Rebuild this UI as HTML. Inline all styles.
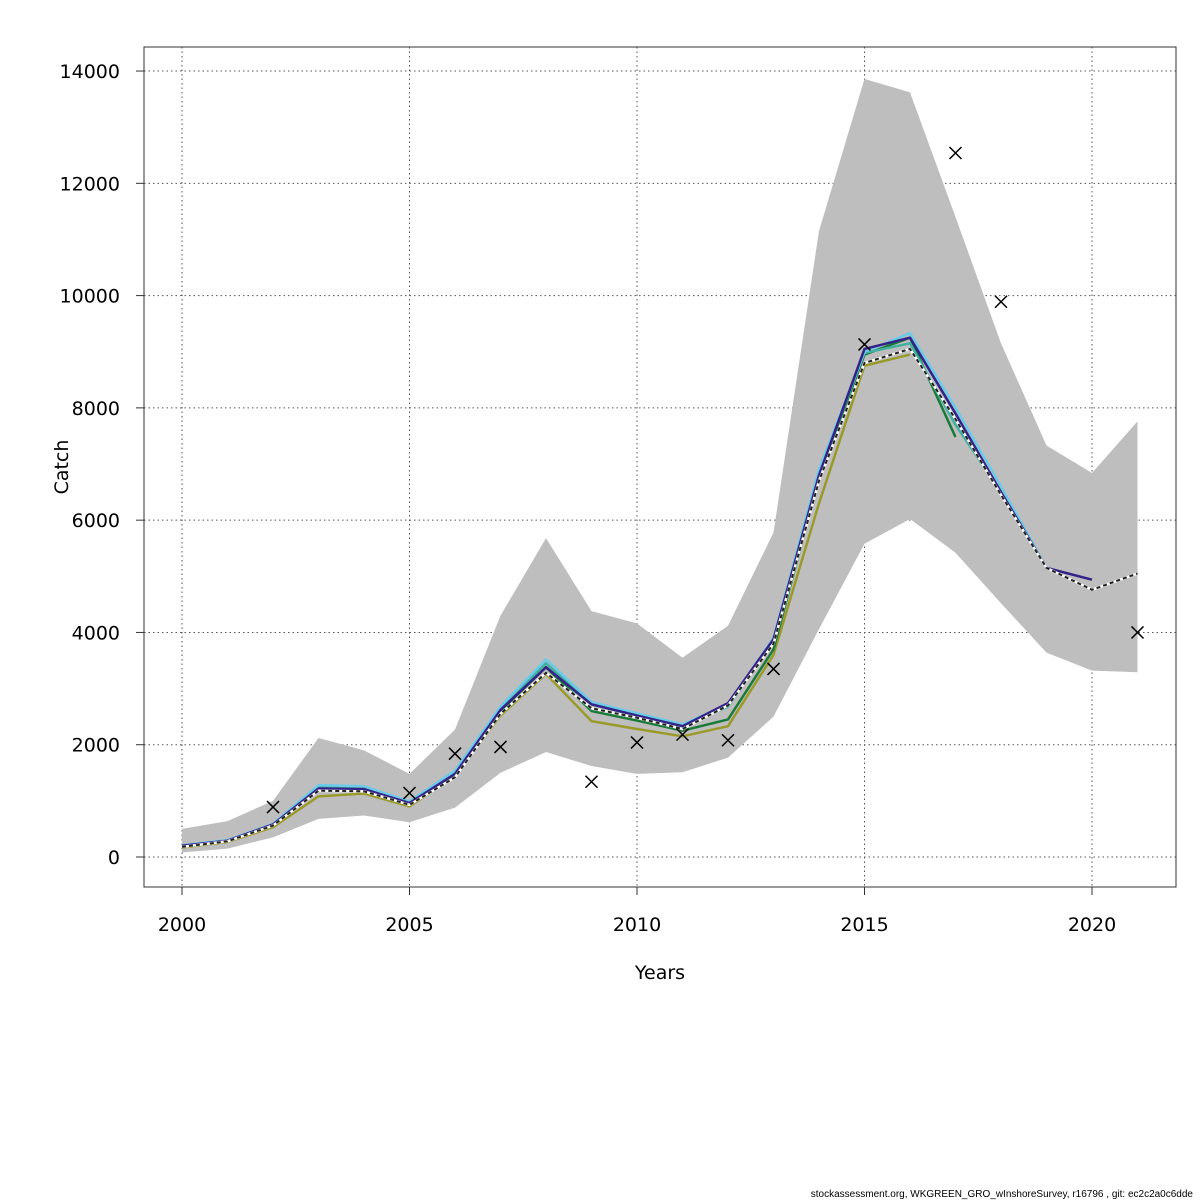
<!DOCTYPE html>
<html><head><meta charset="utf-8"><style>
html,body{margin:0;padding:0;background:#fff;}
svg{display:block;font-family:"DejaVu Sans","Liberation Sans",sans-serif;}
</style></head><body>
<svg id="chart" width="1200" height="1200" viewBox="0 0 1200 1200">
<g id="grid"></g>
<g id="band"></g>
<g id="lines"></g>
<g id="obs"></g>
<rect x="144" y="47" width="1032" height="840" fill="none" stroke="#333" stroke-width="1"/>
<g id="axes"></g>
<text x="660" y="979" font-size="19" text-anchor="middle">Years</text>
<text transform="translate(68,467) rotate(-90)" font-size="19" text-anchor="middle">Catch</text>
<text x="1193" y="1197" font-size="10" text-anchor="end" font-family="Liberation Sans, sans-serif">stockassessment.org, WKGREEN_GRO_wInshoreSurvey, r16796 , git: ec2c2a0c6dde</text>
</svg>
<script>
const years = [2000,2001,2002,2003,2004,2005,2006,2007,2008,2009,2010,2011,2012,2013,2014,2015,2016,2017,2018,2019,2020,2021];
const estimate = [180,280,560,1180,1170,930,1420,2550,3280,2650,2480,2280,2700,3800,6700,8800,9050,7800,6450,5150,4760,5050];
const upper = [500,640,1000,2120,1900,1480,2270,4300,5680,4380,4160,3550,4120,5780,11150,13860,13620,11400,9150,7330,6840,7760];
const lower = [80,150,350,680,740,620,880,1500,1870,1620,1480,1510,1770,2500,4060,5580,6020,5420,4520,3640,3320,3290];
const obsYears = [2002,2005,2006,2007,2009,2010,2011,2012,2013,2015,2017,2018,2021];
const obsValues = [890,1140,1840,1960,1340,2040,2180,2080,3350,9130,12540,9890,4000];
const peelDarkBlue = [200,290,580,1220,1210,960,1480,2620,3380,2720,2520,2330,2740,3880,6800,9050,9250,7900,6500,5150,4940];
const peelSkyBlue = [210,300,590,1280,1260,990,1540,2680,3520,2760,2560,2360,2720,3900,6900,9000,9330,8000,6600,5150];
const peelTeal = [200,295,580,1250,1240,970,1520,2650,3450,2720,2520,2330,2680,3850,6850,8980,9150,7700,6500];
const peelGreen = [190,285,570,1200,1190,940,1490,2600,3380,2600,2430,2250,2450,3700,6750,8950,9250,7480];
const peelOlive = [170,270,530,1080,1130,900,1450,2520,3260,2420,2280,2150,2330,3600,6300,8750,8950];
const yTicks = [0,2000,4000,6000,8000,10000,12000,14000];
const xTicks = [2000,2005,2010,2015,2020];

const NS="http://www.w3.org/2000/svg";
const xs = y => 182 + (y-2000)*45.5;
const ys = v => 857 - v*0.05614;
function mk(tag, attrs, parent){const e=document.createElementNS(NS,tag);for(const k in attrs)e.setAttribute(k,attrs[k]);parent.appendChild(e);return e;}
const grid=document.getElementById('grid'), band=document.getElementById('band'), lines=document.getElementById('lines'), obs=document.getElementById('obs'), axes=document.getElementById('axes');

yTicks.forEach(t=>{
  const l=mk('line',{x1:144,x2:1176,y1:ys(t),y2:ys(t),stroke:'#555','stroke-dasharray':'1.5,3','stroke-width':1},grid);
  
  
  const tk=mk('line',{x1:136,x2:144,y1:ys(t),y2:ys(t),stroke:'#333'},axes);
  
  
  const tx=mk('text',{x:120,y:ys(t)+7,'font-size':19,'text-anchor':'end'},axes);
  tx.textContent=t;
  
  
});
xTicks.forEach(t=>{
  const l=mk('line',{x1:xs(t),x2:xs(t),y1:47,y2:887,stroke:'#555','stroke-dasharray':'1.5,3','stroke-width':1},grid);
  
  
  const tk=mk('line',{x1:xs(t),x2:xs(t),y1:887,y2:895,stroke:'#333'},axes);
  
  
  const tx=mk('text',{x:xs(t),y:931,'font-size':19,'text-anchor':'middle'},axes);
  tx.textContent=t;
  
  
});

let pts=years.map((y,i)=>xs(y)+','+ys(upper[i]));
for(let i=years.length-1;i>=0;i--)pts.push(xs(years[i])+','+ys(lower[i]));
const poly=mk('polygon',{points:pts.join(' '),fill:'#bebebe',stroke:'none'},band);



function line(vals,color,name,w){
  const p=vals.map((v,i)=>xs(years[i])+','+ys(v)).join(' ');
  const e=mk('polyline',{points:p,fill:'none',stroke:color,'stroke-width':w||2.5,'stroke-linejoin':'round'},lines);
  
  
  return p;
}
line(peelOlive,'#9a9a2a','peel-2016-line');
line(peelGreen,'#1a7a3a','peel-2017-line');
line(peelTeal,'#40b0a0','peel-2018-line');
line(peelSkyBlue,'#6ccbe8','peel-2019-line');
line(peelDarkBlue,'#332288','peel-2020-line');
const bp=line(estimate,'#ffffff','estimate-line-base',2.5);
const d=mk('polyline',{points:bp,fill:'none',stroke:'#222','stroke-width':2,'stroke-dasharray':'4,3'},lines);



obsYears.forEach((y,i)=>{
  const cx=xs(y), cy=ys(obsValues[i]), s=6;
  const g=mk('path',{d:`M${cx-s},${cy-s}L${cx+s},${cy+s}M${cx-s},${cy+s}L${cx+s},${cy-s}`,stroke:'#000','stroke-width':1.5,fill:'none'},obs);
  
  
});
</script>
</body></html>
